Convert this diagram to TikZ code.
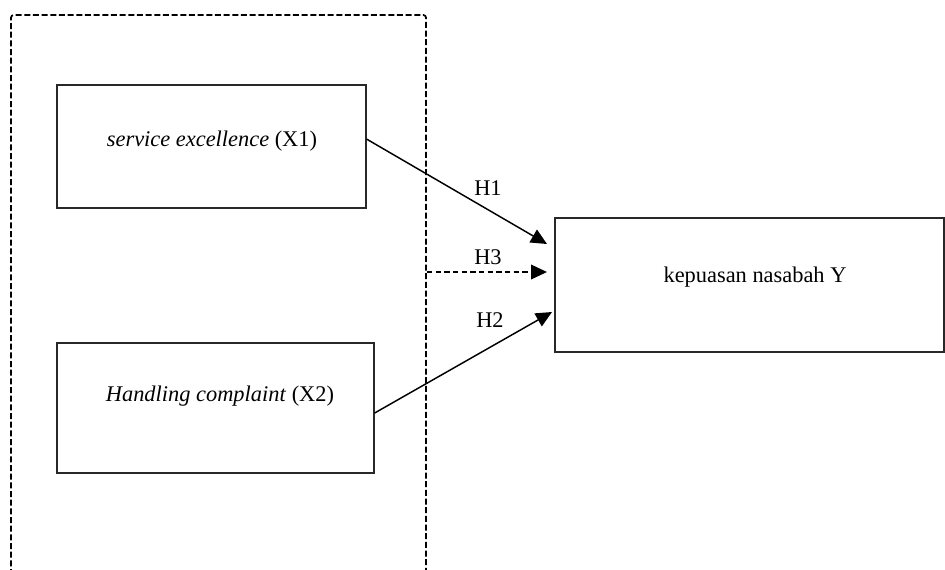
\documentclass[tikz,border=0pt]{standalone}
\usepackage{fontspec}
\setmainfont{Liberation Serif}
\usetikzlibrary{arrows.meta, positioning}
\definecolor{boxline}{RGB}{40,40,40}
\tikzstyle{factor}=[draw=boxline, line width=0.8pt, rectangle, inner sep=0pt]
\tikzstyle{caption}=[font=\fontsize{16.8}{20}\selectfont, inner sep=0pt]
\tikzstyle{hypo}=[line width=1.1pt, -{Triangle[length=12pt,width=11pt]}]
\tikzstyle{frame}=[line width=1.3pt, dash pattern=on 4.5pt off 2pt, rounded corners=2pt]

\begin{document}
\begin{tikzpicture}[x=0.75pt, y=-0.75pt]
\useasboundingbox (0,0) rectangle (945,569);

% variables
\node[factor, minimum width=231.75pt, minimum height=92.25pt] (x1box) at (211.5,146.5) {};
\node[factor, minimum width=237.75pt, minimum height=97.5pt] (x2box) at (215.5,408) {};
\node[factor, minimum width=291.75pt, minimum height=100.5pt] (ybox) at (749.5,285) {};
\node[caption] (x1text) at (212,141) {\textit{service excellence} (X1)};
\node[caption] (x2text) at (220,396) {\textit{Handling complaint} (X2)};
\node[caption] (ytext) at (755,277) {kepuasan nasabah Y};

% dashed frame round X1 and X2
\draw[frame] (11,575) -- (11,15) -- (426,15) -- (426,575);

% hypotheses
\coordinate (h1end) at (547,244);
\coordinate (h3start) at (427,272);
\coordinate (h3end) at (547,272);
\coordinate (h2end) at (552,312);
\draw[hypo] ([yshift=5.6pt]x1box.east) -- (h1end);
\draw[hypo, dash pattern=on 4pt off 2.5pt] (h3start) -- (h3end);
\draw[hypo] ([yshift=-3.8pt]x2box.east) -- (h2end);

\node[caption] (h1) at (488,188) {H1};
\node[caption] (h3) at (488,257) {H3};
\node[caption] (h2) at (490,320) {H2};
\end{tikzpicture}
\end{document}
